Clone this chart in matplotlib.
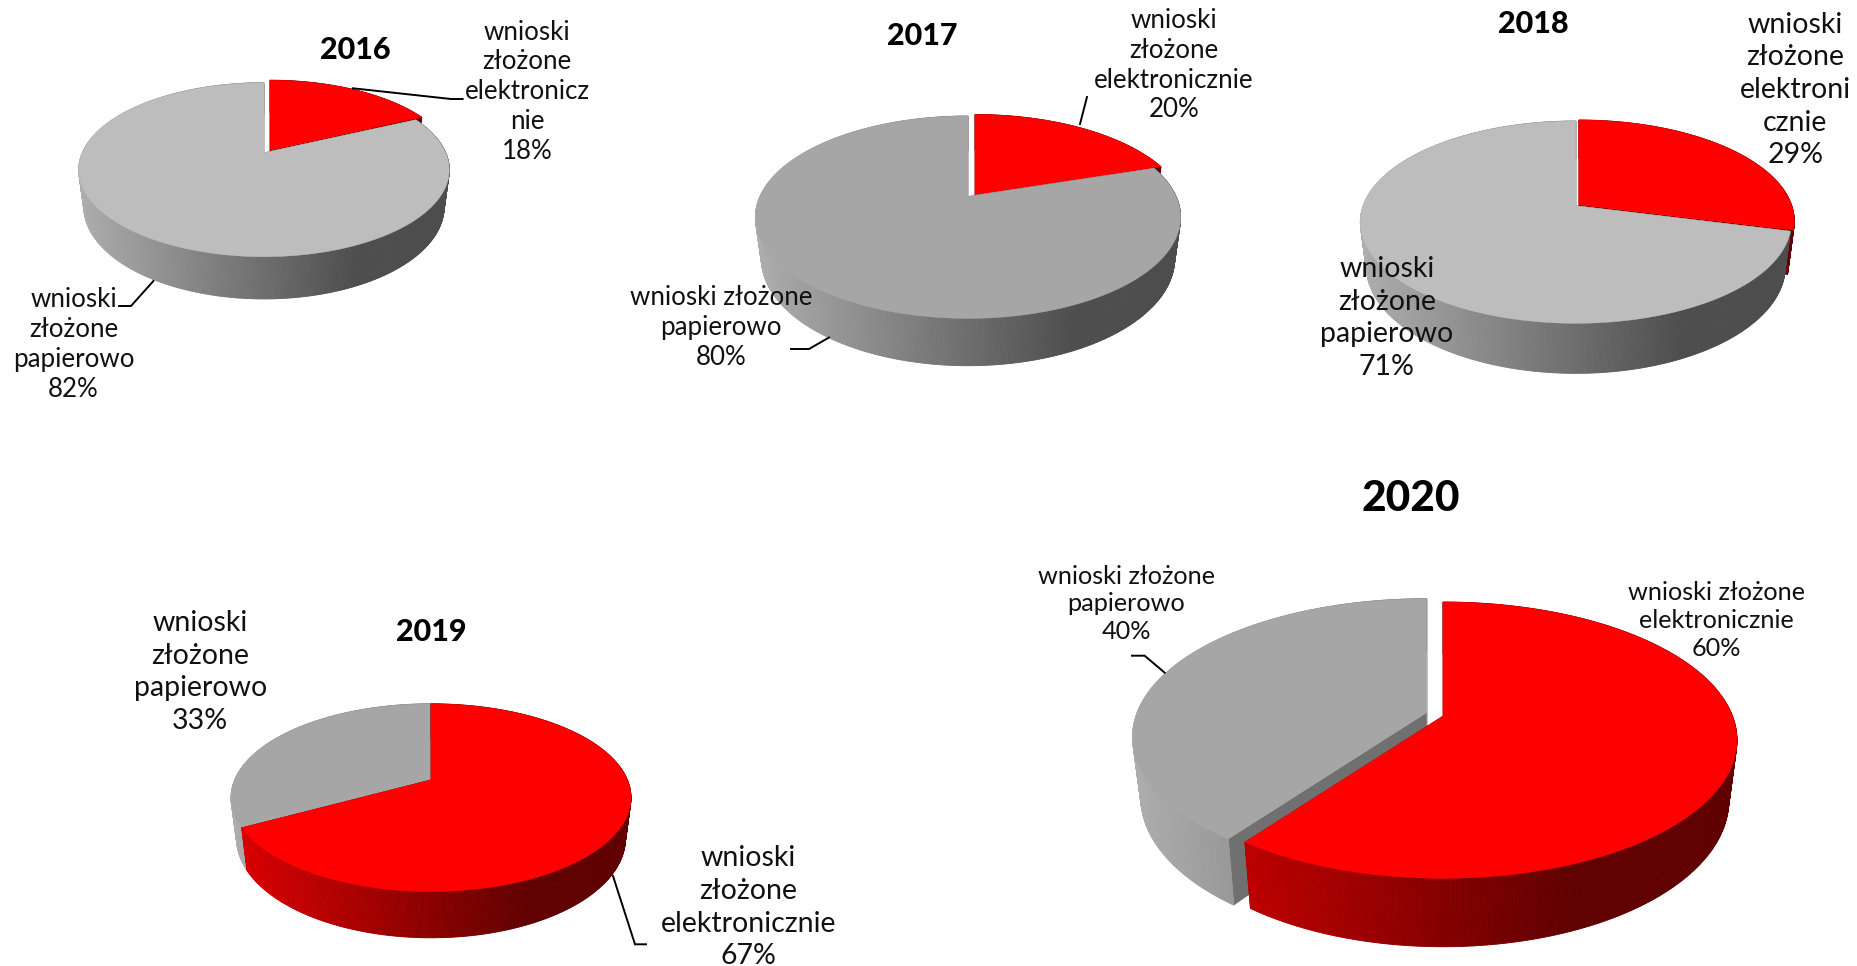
import numpy as np
import matplotlib
matplotlib.use("Agg")
import matplotlib.pyplot as plt
from matplotlib.collections import PolyCollection
from matplotlib.patches import Polygon
from matplotlib.colors import LinearSegmentedColormap

years = ["2016", "2017", "2018", "2019", "2020"]
electronic = [18, 20, 29, 67, 60]
paper = [82, 80, 71, 33, 40]
label_electronic = {
    "2016": ["wnioski", "złożone", "elektronicz", "nie"],
    "2017": ["wnioski", "złożone", "elektronicznie"],
    "2018": ["wnioski", "złożone", "elektroni", "cznie"],
    "2019": ["wnioski", "złożone", "elektronicznie"],
    "2020": ["wnioski złożone", "elektronicznie"],
}
label_paper = {
    "2016": ["wnioski", "złożone", "papierowo"],
    "2017": ["wnioski złożone", "papierowo"],
    "2018": ["wnioski", "złożone", "papierowo"],
    "2019": ["wnioski", "złożone", "papierowo"],
    "2020": ["wnioski złożone", "papierowo"],
}

W, H = 1857, 966
FONT = "Lato"
S = 1857 / 1568

# layout: apex, widths of the projected disc, depth, explosion, colours
layout = {
    "2016": dict(ax=264, ay=152.7, rx=185.3, up=70, down=104, d0=36, rx_shift=(6, -2.5), gx_shift=(0, 0),
                 top="#BDBDBD", order="re", fs=18.6, lsp=1.24,
                 e_pos=(445, 77.5), p_pos=(62, 291), title_pos=(300, 42.5), title_fs=22,
                 e_lead=[(353, 88.3), (451, 99), (462.6, 99)],
                 p_lead=[(153.4, 281), (131, 306), (119, 306)]),
    "2017": dict(ax=968, ay=196.4, rx=212.6, up=80.4, down=122, d0=40, rx_shift=(7, -1.5), gx_shift=(0, 0),
                 top="#A6A6A6", order="re", fs=18.6, lsp=1.24,
                 e_pos=(991, 55), p_pos=(609, 276.5), title_pos=(779, 30), title_fs=22,
                 e_lead=[(1087, 97), (1080, 124)],
                 p_lead=[(829, 337.5), (809, 349), (791, 349)]),
    "2018": dict(ax=1575.8, ay=205.7, rx=215.5, up=84.7, down=117.6, d0=43, rx_shift=(3, -1), gx_shift=(0, 0),
                 top="#BDBDBD", order="re", fs=20.5, lsp=1.32,
                 e_pos=(1516, 76), p_pos=(1171, 268.5), title_pos=(1295, 20.5), title_fs=22,
                 e_lead=None, p_lead=None),
    "2019": dict(ax=431, ay=779.8, rx=200, up=76, down=111.7, d0=39.6, rx_shift=(0, 0), gx_shift=(0, 0),
                 top="#A6A6A6", order="pe", fs=20.5, lsp=1.32,
                 e_pos=(632, 766), p_pos=(169, 567.5), title_pos=(364, 533.5), title_fs=22,
                 e_lead=[(613, 876), (635, 944.3), (646, 944.3)], p_lead=None),
    "2020": dict(ax=1426.5, ay=712.7, rx=294, up=114, down=162.3, d0=58.7, rx_shift=(16.5, 3.3), gx_shift=(0, 0),
                 top="#A6A6A6", order="pe", fs=18.2, lsp=1.26,
                 e_pos=(1449, 524), p_pos=(951, 510), title_pos=(1191, 421), title_fs=30.5,
                 e_lead=None,
                 p_lead=[(1164.7, 672.7), (1144.6, 655.7), (1132, 655.7)]),
}

RED_TOP = "#FF0000"
cm_gray = LinearSegmentedColormap.from_list("g", [(0, "#ADADAD"), (0.75, "#4D4D4D"), (1, "#4D4D4D")])
cm_red = LinearSegmentedColormap.from_list("r", [(0, "#DC0000"), (0.75, "#600000"), (1, "#600000")])

fig = plt.figure(figsize=(W / 100, H / 100), dpi=100, facecolor="white")
ax = fig.add_axes([0, 0, 1, 1])
ax.set_xlim(0, W)
ax.set_ylim(H, 0)
ax.axis("off")


def projector(p):
    k = (1 - p["up"] / p["down"]) / (1 + p["up"] / p["down"])
    ry0 = p["up"] * (1 + k)
    rx0 = p["rx"] * np.sqrt(1 - k * k)

    def top(theta):
        u, v = np.sin(theta), np.cos(theta)
        w = 1 + k * v
        return rx0 * u / w, -ry0 * v / w

    return top


def slice3d(p, start, end, shift, top_color, cmap, cut_color, z):
    top = projector(p)
    ax0 = p["ax"] + shift[0]
    ay0 = p["ay"] + shift[1]
    th = np.radians(np.linspace(start, end, max(int(end - start) * 2, 8) + 1))
    dx, dy = top(th)
    tx, ty = ax0 + dx, ay0 + dy
    bx, by = ax0 + dx * 0.972, ay0 + p["d0"] + dy * 1.06

    # cut faces
    for i in (0, -1):
        face = [(ax0, ay0), (tx[i], ty[i]), (bx[i], by[i]), (ax0, ay0 + p["d0"])]
        ax.add_patch(Polygon(face, closed=True, fc=cut_color, ec=cut_color, lw=0.3, zorder=z))

    # outer wall, shaded across the width of the pie
    quads, cols = [], []
    left = p["ax"] - p["rx"]
    for i in range(len(th) - 1):
        quads.append([(tx[i], ty[i]), (tx[i + 1], ty[i + 1]), (bx[i + 1], by[i + 1]), (bx[i], by[i])])
        cols.append(cmap(np.clip((0.5 * (tx[i] + tx[i + 1]) - left) / (2 * p["rx"]), 0, 1)))
    ax.add_collection(PolyCollection(quads, facecolors=cols, edgecolors=cols, linewidths=0.6, zorder=z))

    # top surface
    pts = [(ax0, ay0)] + list(zip(tx, ty))
    ax.add_patch(Polygon(pts, closed=True, fc=top_color, ec=top_color, lw=0.3, zorder=z + 0.5))


for i, year in enumerate(years):
    p = layout[year]
    e_end = electronic[i] * 3.6
    draw_e = lambda z: slice3d(p, 0, e_end, p["rx_shift"], RED_TOP, cm_red, "#7A0000", z)
    draw_p = lambda z: slice3d(p, e_end, 360, p["gx_shift"], p["top"], cm_gray, "#707070", z)
    if p["order"] == "re":
        draw_e(2)
        draw_p(3)
    else:
        draw_p(2)
        draw_e(3)

    for lead in (p["e_lead"], p["p_lead"]):
        if lead:
            xs, ys = zip(*lead)
            ax.plot(xs, ys, color="black", lw=1.4, zorder=5, solid_joinstyle="miter")

    kw = dict(ha="center", va="center", family=FONT, fontsize=p["fs"], linespacing=p["lsp"],
              color="#111111", zorder=6)
    e_txt = "\n".join(label_electronic[year] + [f"{electronic[i]}%"])
    p_txt = "\n".join(label_paper[year] + [f"{paper[i]}%"])
    ax.text(p["e_pos"][0] * S, p["e_pos"][1] * S, e_txt, **kw)
    ax.text(p["p_pos"][0] * S, p["p_pos"][1] * S, p_txt, **kw)
    ax.text(p["title_pos"][0] * S, p["title_pos"][1] * S, year, ha="center", va="center",
            family=FONT, fontweight=900, fontsize=p["title_fs"], color="black", zorder=6)

fig.savefig("out.png", dpi=100, facecolor="white")
